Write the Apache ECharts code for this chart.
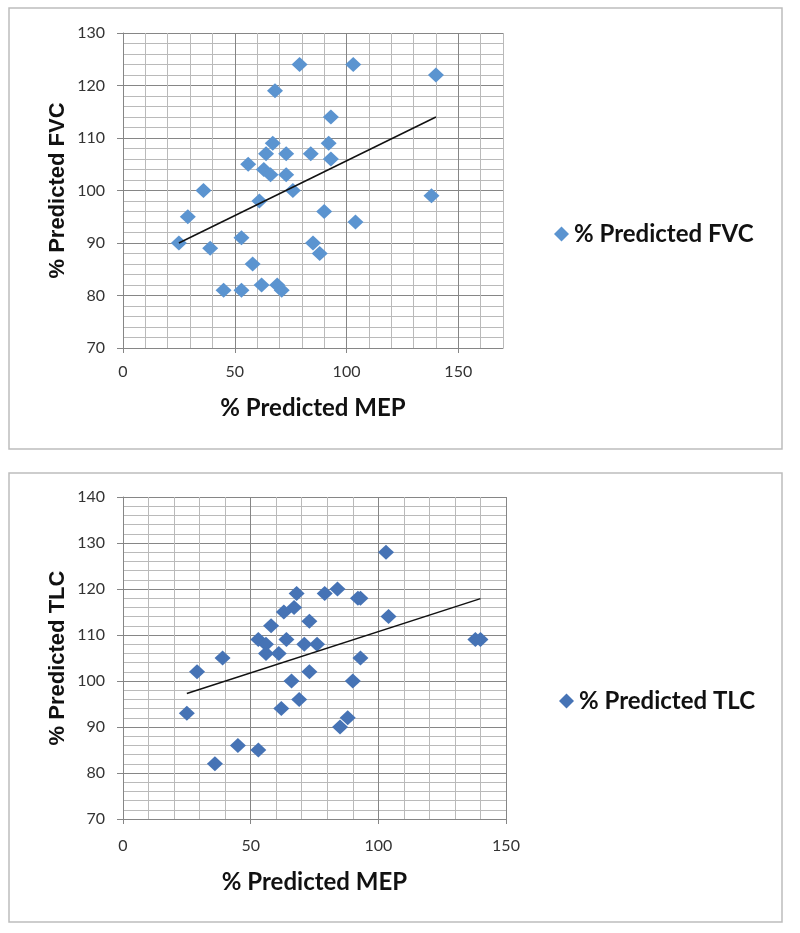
<!DOCTYPE html>
<html><head><meta charset="utf-8">
<script src="https://cdn.jsdelivr.net/npm/echarts@6/dist/echarts.min.js"></script>
<style>html,body{margin:0;padding:0;background:#fff}#c{width:800px;height:933px}</style>
</head><body><div id="c"></div>
<script>
// ---- Data ----
const fvcPoints = [
  [79,124],[103,124],[140,122],[68,119],[93,114],[67,109],[92,109],[64,107],[73,107],
  [84,107],[93,106],[56,105],[63,104],[66,103],[73,103],[36,100],[76,100],[138,99],
  [61,98],[90,96],[29,95],[104,94],[25,90],[85,90],[53,91],[39,89],[88,88],[58,86],
  [45,81],[53,81],[62,82],[69,82],[71,81]
];
const fvcTrend = [[25,90],[140,114]];
const tlcPoints = [
  [103,128],[84,120],[68,119],[79,119],[92,118],[93,118],[67,116],[63,115],[104,114],
  [73,113],[58,112],[53,109],[64,109],[138,109],[140,109],[56,108],[71,108],[76,108],
  [56,106],[61,106],[39,105],[93,105],[29,102],[73,102],[66,100],[90,100],[69,96],
  [62,94],[25,93],[88,92],[85,90],[45,86],[53,85],[36,82]
];
const tlcTrend = [[25,97.3],[140,117.9]];
const xTicksTop = [0,50,100,150];
const yTicksTop = [70,80,90,100,110,120,130];
const xTicksBottom = [0,50,100,150];
const yTicksBottom = [70,80,90,100,110,120,130,140];
const xTitle = '% Predicted MEP';
const fvcName = '% Predicted FVC';
const tlcName = '% Predicted TLC';

// ---- Styles ----
const MAJOR = '#868686', MINOR = '#bababa', AXIS = '#868686';
const gridColors = [MAJOR, MINOR, MINOR, MINOR, MINOR];
const tickFont = {fontFamily:'Lato', fontSize:16, color:'#333'};

// visible x axis: line, ticks, labels, title
function xAxisCfg(gi, max, ticks, nameGap, margin){
  return {type:'value', gridIndex:gi, min:0, max:max, position:'bottom',
    axisLine:{show:true, onZero:false, lineStyle:{color:AXIS, width:1}},
    axisTick:{show:true, customValues:ticks, length:5, lineStyle:{color:AXIS}},
    axisLabel:Object.assign({customValues:ticks, margin:margin}, tickFont),
    splitLine:{show:false},
    name:xTitle, nameLocation:'middle', nameGap:nameGap,
    nameTextStyle:{fontFamily:'Lato', fontWeight:'bold', fontSize:24, color:'#111'}, z:3
  };
}
// hidden axis used only for the gridlines
function gridAxisCfg(gi, min, max, step, pos){
  return {type:'value', gridIndex:gi, min:min, max:max, interval:step, position:pos,
    axisLine:{show:false}, axisTick:{show:false}, axisLabel:{show:false},
    splitLine:{show:true, lineStyle:{color:gridColors, width:1}}
  };
}
function yAxisCfg(gi, min, max, ticks, name){
  return {type:'value', gridIndex:gi, min:min, max:max, position:'left',
    axisLine:{show:true, onZero:false, lineStyle:{color:AXIS, width:1}},
    axisTick:{show:true, customValues:ticks, length:6, lineStyle:{color:AXIS}},
    axisLabel:Object.assign({customValues:ticks, margin:18}, tickFont),
    splitLine:{show:false},
    name:name, nameLocation:'middle', nameGap:54, nameRotate:90,
    nameTextStyle:{fontFamily:'Liberation Sans', fontWeight:'bold', fontSize:22, color:'#111'}, z:3
  };
}

const chart = echarts.init(document.getElementById('c'), null, {renderer:'canvas'});
chart.setOption({
  animation:false,
  backgroundColor:'#fff',
  graphic:[
    {type:'rect', shape:{x:9, y:8, width:773, height:441}, style:{fill:'none', stroke:'#bdbdbd', lineWidth:1.5}, z:-1},
    {type:'rect', shape:{x:9, y:473, width:773, height:449}, style:{fill:'none', stroke:'#bdbdbd', lineWidth:1.5}, z:-1}
  ],
  grid:[
    {left:123, top:33, width:380, height:315},
    {left:123, top:497, width:383, height:322}
  ],
  xAxis:[
    xAxisCfg(0, 170, xTicksTop, 48, 16),
    xAxisCfg(1, 150, xTicksBottom, 51, 19),
    gridAxisCfg(0, 0, 170, 10, 'top'),
    gridAxisCfg(1, 0, 150, 10, 'top')
  ],
  yAxis:[
    yAxisCfg(0, 70, 130, yTicksTop, fvcName),
    yAxisCfg(1, 70, 140, yTicksBottom, tlcName),
    gridAxisCfg(0, 70, 130, 2, 'right'),
    gridAxisCfg(1, 70, 140, 2, 'right')
  ],
  legend:[
    {data:[fvcName], left:549, top:217, icon:'diamond', itemWidth:15, itemHeight:15,
     textStyle:{fontFamily:'Lato', fontWeight:'bold', fontSize:24, color:'#111'}},
    {data:[tlcName], left:554, top:684, icon:'diamond', itemWidth:15, itemHeight:15,
     textStyle:{fontFamily:'Lato', fontWeight:'bold', fontSize:24, color:'#111'}}
  ],
  series:[
    {name:fvcName, type:'scatter', xAxisIndex:0, yAxisIndex:0, data:fvcPoints,
     symbol:'diamond', symbolSize:[16,15], itemStyle:{color:'#5b94d0', opacity:1}, z:4},
    {name:'fvcTrend', type:'line', xAxisIndex:0, yAxisIndex:0, data:fvcTrend,
     showSymbol:false, symbol:'none', lineStyle:{color:'#111', width:1.5}, z:5},
    {name:tlcName, type:'scatter', xAxisIndex:1, yAxisIndex:1, data:tlcPoints,
     symbol:'diamond', symbolSize:[16,15], itemStyle:{color:'#4673b5', opacity:1}, z:4},
    {name:'tlcTrend', type:'line', xAxisIndex:1, yAxisIndex:1, data:tlcTrend,
     showSymbol:false, symbol:'none', lineStyle:{color:'#111', width:1.5}, z:5}
  ]
});
</script>
</body></html>
